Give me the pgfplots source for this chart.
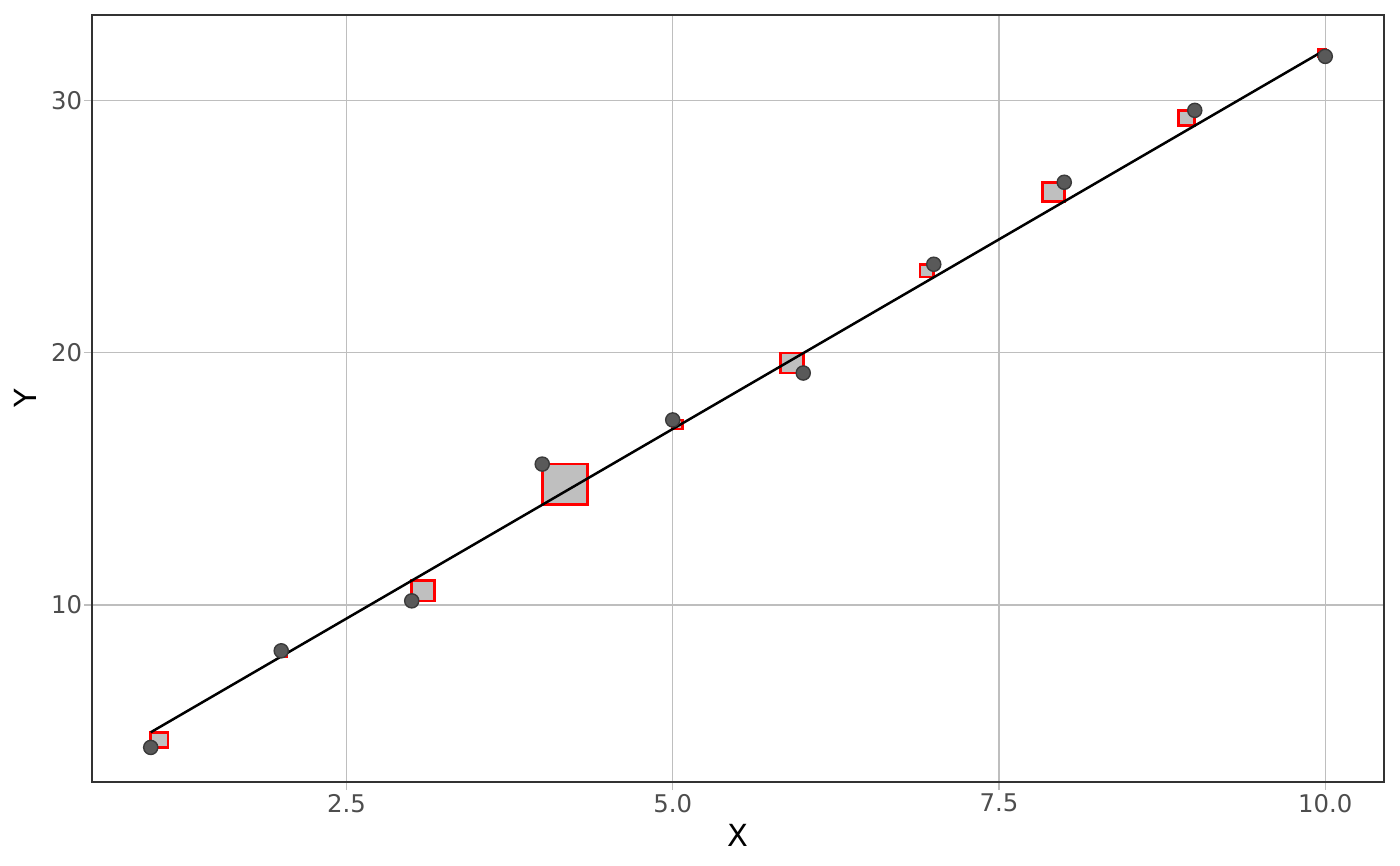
\documentclass[border=0pt]{standalone}
\usepackage{fontspec}
\setmainfont{DejaVu Sans}
\usepackage{pgfplots}
\pgfplotsset{compat=1.18}

\definecolor{ticktext}{HTML}{4D4D4D}
\definecolor{gridgray}{HTML}{BEBEBE}
\definecolor{frame}{HTML}{333333}
\definecolor{ptfill}{HTML}{595959}
\definecolor{ptdraw}{HTML}{3A3A3A}
\definecolor{boxfill}{HTML}{BFBFBF}

% residual squares: corners on the fitted line and on the observed point
\pgfplotsset{resbox/.style={draw=red, fill=boxfill, line width=0.95bp, line join=miter, forget plot}}

\begin{document}
\begin{tikzpicture}
\useasboundingbox (-33.12bp,-30.24bp) rectangle (470.88bp,281.52bp);
\begin{axis}[
  at={(0,0)}, anchor=south west,
  scale only axis, width=465.12bp, height=276.12bp,
  xmin=0.55, xmax=10.45, ymin=2.98, ymax=33.38,
  xtick={2.5,5,7.5,10}, xticklabels={2.5,5.0,7.5,10.0},
  ytick={10,20,30}, yticklabels={10,20,30},
  minor tick num=0,
  xtick pos=bottom, ytick pos=left,
  tick align=outside, major tick length=2.9bp,
  tick style={color=gridgray, line width=0.5bp},
  grid=major,
  major grid style={color=gridgray, line width=0.5bp},
  axis line style={color=frame, line width=0.5bp},
  xticklabel style={font=\fontsize{8.8}{10}\selectfont, text=ticktext, inner sep=0pt, anchor=north, yshift=-1.2bp},
  yticklabel style={font=\fontsize{8.8}{10}\selectfont, text=ticktext, inner sep=0pt, anchor=east, xshift=-0.5bp},
  xlabel={X}, ylabel={Y},
  every axis x label/.style={at={(axis description cs:0.5,0)}, yshift=-19.1bp, anchor=center, font=\fontsize{11}{13}\selectfont},
  every axis y label/.style={at={(axis description cs:0,0.5)}, xshift=-24.1bp, rotate=90, anchor=center, font=\fontsize{11}{13}\selectfont},
  clip=false,
]
% observed points
\addplot[only marks, mark=*, mark size=2.55bp,
  mark options={fill=ptfill, draw=ptdraw, line width=0.5bp}]
  coordinates {(1,4.35) (2,8.18) (3,10.16) (4,15.58) (5,17.33)
               (6,19.19) (7,23.50) (8,26.75) (9,29.60) (10,31.74)};
% squared residuals
\addplot[resbox] coordinates {(1,4.35) (1.132,4.35) (1.132,4.95) (1,4.95)} -- cycle;
\addplot[resbox] coordinates {(2,7.956) (2.045,7.956) (2.045,8.18) (2,8.18)} -- cycle;
\addplot[resbox] coordinates {(3,10.16) (3.176,10.16) (3.176,10.96) (3,10.96)} -- cycle;
\addplot[resbox] coordinates {(4,13.97) (4.345,13.97) (4.345,15.58) (4,15.58)} -- cycle;
\addplot[resbox] coordinates {(5,16.97) (5.075,16.97) (5.075,17.33) (5,17.33)} -- cycle;
\addplot[resbox] coordinates {(5.826,19.19) (6,19.19) (6,19.98) (5.826,19.98)} -- cycle;
\addplot[resbox] coordinates {(6.895,22.99) (7,22.99) (7,23.50) (6.895,23.50)} -- cycle;
\addplot[resbox] coordinates {(7.833,25.99) (8,25.99) (8,26.75) (7.833,26.75)} -- cycle;
\addplot[resbox] coordinates {(8.875,29.00) (9,29.00) (9,29.60) (8.875,29.60)} -- cycle;
\addplot[resbox] coordinates {(9.943,31.74) (10,31.74) (10,32.00) (9.943,32.00)} -- cycle;
% fitted line
\addplot[black, line width=0.9bp] coordinates {(1,4.95) (10,32.00)};
\end{axis}
\end{tikzpicture}
\end{document}
